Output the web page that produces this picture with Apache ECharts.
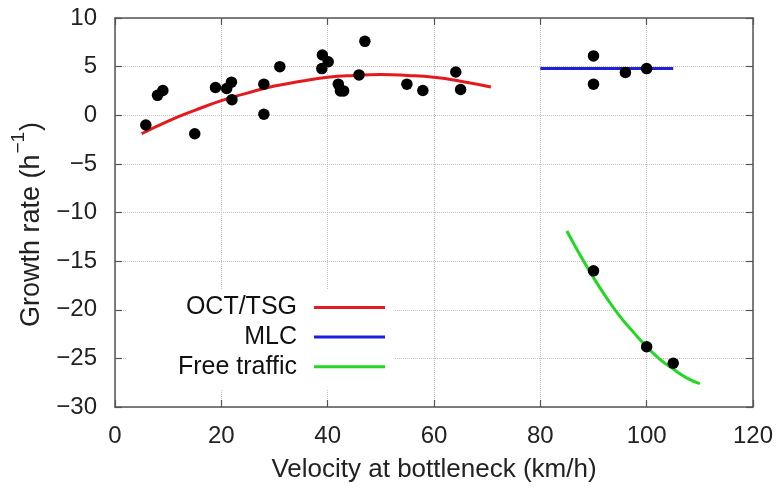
<!DOCTYPE html>
<html>
<head>
<meta charset="utf-8">
<script src="https://cdn.jsdelivr.net/npm/echarts@6/dist/echarts.min.js"></script>
<style>
  html, body { margin: 0; padding: 0; background: #fff; }
  #chart { width: 781px; height: 488px; }
</style>
</head>
<body>
<div id="chart"></div>
<script>
// Measured growth rates against bottleneck velocity
const pointVelocity = [5.8, 8.0, 9.0, 15.0, 18.9, 21.0, 21.9, 22.0, 28.0, 28.0, 31.0, 39.0, 40.1, 38.9,
                       42.0, 42.4, 43.0, 45.9, 47.0, 54.9, 57.9, 64.1, 65.0,
                       90.0, 90.0, 96.0, 100.0,
                       90.0, 100.0, 105.0];
const pointRate = [-1.0, 2.05, 2.55, -1.9, 2.85, 2.75, 3.4, 1.6, 3.2, 0.1, 5.0, 6.2, 5.5, 4.8,
                   3.2, 2.5, 2.5, 4.15, 7.6, 3.2, 2.55, 4.45, 2.65,
                   6.1, 3.2, 4.4, 4.8,
                   -16.0, -23.8, -25.5];

// Fitted curves
const octVelocity = [5, 10, 15, 20, 25, 30, 35, 40, 45, 50, 55, 60, 65, 70.7];
const octRate = [-1.9, -0.6, 0.5, 1.5, 2.3, 3.0, 3.5, 3.9, 4.1, 4.2, 4.1, 3.9, 3.5, 2.9];

const mlcVelocity = [80, 105];
const mlcRate = [4.8, 4.8];

const freeVelocity = [85, 87.5, 90, 92.5, 95, 97.5, 100, 102.5, 105, 107.5, 110];
const freeRate = [-11.9, -14.4, -16.7, -18.8, -20.7, -22.3, -23.8, -25.1, -26.1, -27.0, -27.6];

// Axis ticks
const xTicks = [0, 20, 40, 60, 80, 100, 120];
const yTicks = [-30, -25, -20, -15, -10, -5, 0, 5, 10];

const seriesNames = ['OCT/TSG', 'MLC', 'Free traffic'];
const seriesColors = ['#e41a1c', '#1f1fe0', '#22d822'];

const zip = (xs, ys) => xs.map((x, i) => [x, ys[i]]);

const FONT = 'Liberation Sans, Arial, sans-serif';
const frameColor = '#555';
const textColor = '#222';

const chart = echarts.init(document.getElementById('chart'), null, { renderer: 'canvas' });

const baseAxis = {
  type: 'value',
  axisLine: { show: true, onZero: false, lineStyle: { color: frameColor, width: 1.5 } },
  axisTick: { show: true, inside: true, length: 7, lineStyle: { color: frameColor, width: 1.2 } },
};

const option = {
  backgroundColor: '#fff',
  animation: false,
  grid: { left: 115, right: 28, top: 18, bottom: 80, containLabel: false },
  xAxis: [
    Object.assign({}, baseAxis, {
      min: xTicks[0], max: xTicks[xTicks.length - 1], interval: 20,
      position: 'bottom',
      name: 'Velocity at bottleneck (km/h)',
      nameLocation: 'middle',
      nameGap: 50,
      nameTextStyle: { fontFamily: FONT, fontSize: 26, color: textColor },
      axisLabel: { fontFamily: FONT, fontSize: 24, color: textColor, margin: 17 },
      splitLine: { show: true, lineStyle: { type: 'dotted', color: '#c4c4c4', width: 1 } },
    }),
    Object.assign({}, baseAxis, {
      min: xTicks[0], max: xTicks[xTicks.length - 1], interval: 20,
      position: 'top',
      axisLabel: { show: false },
      splitLine: { show: false },
    }),
  ],
  yAxis: [
    Object.assign({}, baseAxis, {
      min: yTicks[0], max: yTicks[yTicks.length - 1], interval: 5,
      position: 'left',
      name: '{t|Growth rate (h}{s|−1}{t|)}',
      nameLocation: 'middle',
      nameRotate: 90,
      nameGap: 67,
      nameTextStyle: {
        fontFamily: FONT, color: textColor, padding: [0, 24, 0, 0],
        rich: {
          t: { fontFamily: FONT, fontSize: 27, color: textColor, lineHeight: 36, verticalAlign: 'bottom' },
          s: { fontFamily: FONT, fontSize: 19, color: textColor, lineHeight: 36, verticalAlign: 'top', padding: [0, 1, 0, 1] },
        },
      },
      axisLabel: {
        fontFamily: FONT, fontSize: 24, color: textColor, margin: 18,
        formatter: v => (v < 0 ? '\u2212' + Math.abs(v) : String(v)),
      },
      splitLine: { show: true, lineStyle: { type: 'dotted', color: '#c4c4c4', width: 1 } },
    }),
    Object.assign({}, baseAxis, {
      min: yTicks[0], max: yTicks[yTicks.length - 1], interval: 5,
      position: 'right',
      axisLabel: { show: false },
      splitLine: { show: false },
    }),
  ],
  legend: {
    data: seriesNames,
    orient: 'vertical',
    align: 'right',
    right: 386,
    top: 290,
    icon: 'rect',
    itemWidth: 71,
    itemHeight: 3,
    itemGap: 4.6,
    backgroundColor: '#fff',
    padding: [5, 10, 10, 52],
    selectedMode: false,
    textStyle: { fontFamily: FONT, fontSize: 25, color: '#111', lineHeight: 22, padding: [0, 12, 0, 0] },
  },
  series: [
    {
      name: seriesNames[0], type: 'line', smooth: true, showSymbol: false, symbol: 'none',
      color: seriesColors[0], lineStyle: { color: seriesColors[0], width: 3 },
      data: zip(octVelocity, octRate), z: 3,
    },
    {
      name: seriesNames[1], type: 'line', showSymbol: false, symbol: 'none',
      color: seriesColors[1], lineStyle: { color: seriesColors[1], width: 3 },
      data: zip(mlcVelocity, mlcRate), z: 3,
    },
    {
      name: seriesNames[2], type: 'line', smooth: true, showSymbol: false, symbol: 'none',
      color: seriesColors[2], lineStyle: { color: seriesColors[2], width: 3 },
      data: zip(freeVelocity, freeRate), z: 3,
    },
    {
      name: 'Measured', type: 'scatter', symbol: 'circle', symbolSize: 11.5,
      itemStyle: { color: '#000', opacity: 1 },
      data: zip(pointVelocity, pointRate), z: 5,
    },
  ],
};

chart.setOption(option);
</script>
</body>
</html>
